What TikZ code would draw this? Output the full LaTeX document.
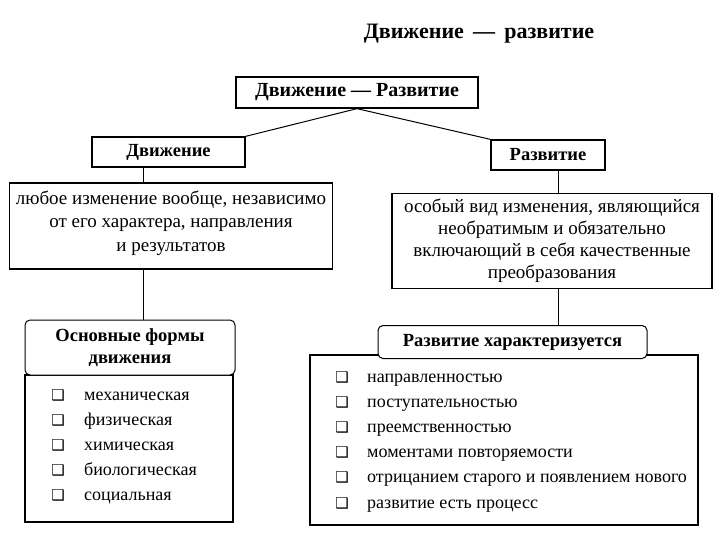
\documentclass[tikz,border=0pt]{standalone}
\usepackage{fontspec}
\setmainfont{Liberation Serif}
\newfontfamily\symfont{DejaVu Sans}
\usetikzlibrary{positioning,calc}

\begin{document}
\begin{tikzpicture}
		[x=1pt, y=-1pt,
		 box/.style={draw, line width=1.3pt, inner sep=0pt, align=center},
		 head/.style={box, font=\bfseries\fontsize{18.5}{22}\selectfont},
		 txt/.style={box, font=\fontsize{19}{23.5}\selectfont},
		 hdr/.style={head, fill=white, rounded corners=5pt, line width=1pt},
		 wire/.style={line width=1pt},
		 item/.style={anchor=base west, inner sep=0pt, font=\fontsize{18}{22}\selectfont},
		 chk/.style={anchor=base, inner sep=0pt, font=\symfont\fontsize{15}{16}\selectfont}]
		\useasboundingbox (0,0) rectangle (720,540);

		\node[font=\bfseries\fontsize{22}{24}\selectfont] (title) at (479,34) {Движение \,---\, развитие};

		\node[head, minimum width=242, minimum height=31, font=\bfseries\fontsize{20}{22}\selectfont] (top) at (357,92.5) {Движение --- Развитие};
		\node[head, minimum width=153, minimum height=30] (dv) at (168.5,152) {Движение};
		\node[head, minimum width=114, minimum height=30] (rz) at (548,155) {Развитие};

		\node[txt, minimum width=323, minimum height=86, text depth=10pt] (ldef) at (171,226)
			{любое изменение вообще, независимо\\от его характера, направления\\и результатов};
		\node[txt, minimum width=320, minimum height=95, font=\fontsize{19}{22}\selectfont] (rdef) at (552,241)
			{особый вид изменения, являющийся\\необратимым и обязательно\\включающий в себя качественные\\преобразования};

		% list frames
		\node[box, minimum width=208, minimum height=147] (llist) at (129,448.5) {};
		\node[box, minimum width=388, minimum height=170] (rlist) at (504,440) {};
		\node[hdr, minimum width=210, minimum height=55] (lhead) at (130,347.5) {Основные формы\\движения};
		\node[hdr, minimum width=269, minimum height=33] (rhead) at (512.5,342) {Развитие характеризуется};

		\coordinate (lx) at (143,0);
		\coordinate (rx) at (558,0);

		\draw[wire] (top.south) -- (dv.north east);
		\draw[wire] (top.south) -- (rz.north west);
		\draw[wire] (dv.south -| lx) -- (ldef.north -| lx);
		\draw[wire] (ldef.south -| lx) -- (lhead.north -| lx);
		\draw[wire] (rz.south -| rx) -- (rdef.north -| rx);
		\draw[wire] (rdef.south -| rx) -- (rhead.north -| rx);

		\foreach \txt [count=\i] in {механическая, физическая, химическая, биологическая, социальная} {
			\node[chk] (lc\i) at (58,{400+25.2*(\i-1)}) {❑};
			\node[item] (li\i) at (84,{400+25.2*(\i-1)}) {\txt};
		}
		\foreach \txt [count=\i] in {направленностью, поступательностью, преемственностью,
			моментами повторяемости, отрицанием старого и появлением нового, развитие есть процесс} {
			\node[chk] (rc\i) at (342,{382+25.2*(\i-1)}) {❑};
			\node[item] (ri\i) at (367,{382+25.2*(\i-1)}) {\txt};
		}
	\end{tikzpicture}
\end{document}
